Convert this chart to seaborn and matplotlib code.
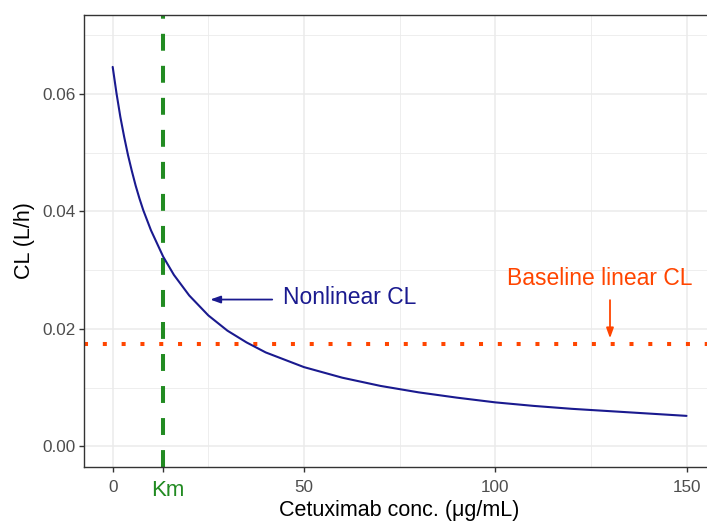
import numpy as np
import pandas as pd
import matplotlib
matplotlib.use("Agg")
import matplotlib.pyplot as plt
import matplotlib.transforms as mtransforms
import seaborn as sns

# ---- data ----
conc = [0, 1, 2, 3, 4, 5, 6, 7, 8, 10, 13.2, 16, 20, 25, 30, 35, 40, 50, 60,
        70, 80, 90, 100, 110, 120, 130, 140, 150]
cl = [0.0646, 0.0601, 0.0561, 0.0527, 0.0496, 0.0469, 0.0444, 0.0422, 0.0402,
      0.0368, 0.0323, 0.0292, 0.0257, 0.0223, 0.0197, 0.0177, 0.0160, 0.0135,
      0.0117, 0.0103, 0.0092, 0.0083, 0.0075, 0.0069, 0.0064, 0.0060, 0.0056,
      0.0052]
km = 13.2
baseline_cl = 0.0174
x_ticks = [0, km, 50, 100, 150]
x_tick_labels = ["0", "Km", "50", "100", "150"]
y_ticks = [0.00, 0.02, 0.04, 0.06]
y_tick_labels = ["0.00", "0.02", "0.04", "0.06"]

df = pd.DataFrame({"conc": conc, "cl": cl})

sns.set_theme(style="white")
plt.rcParams["font.family"] = ["Liberation Sans", "DejaVu Sans"]

fig = plt.figure(figsize=(7.07, 5.26), dpi=100)
ax = fig.add_axes([0.1188, 0.1122, 0.8928, 0.8600])

grid_col = "#EBEBEB"
for xv in [25, 75, 125]:
    ax.axvline(xv, color=grid_col, lw=0.6, zorder=0)
for yv in [0.01, 0.03, 0.05, 0.07]:
    ax.axhline(yv, color=grid_col, lw=0.6, zorder=0)
for xv in [0, 50, 100, 150]:
    ax.axvline(xv, color=grid_col, lw=1.1, zorder=0)
for yv in y_ticks:
    ax.axhline(yv, color=grid_col, lw=1.1, zorder=0)

blue = "#1A1A8F"
orange = "#FF4500"
green = "#228B22"

sns.lineplot(data=df, x="conc", y="cl", ax=ax, color=blue, lw=1.5, zorder=3)

ax.axhline(baseline_cl, color=orange, lw=2.9, linestyle=(0, (1, 3.67)),
           dash_capstyle="butt", zorder=2)
ax.axvline(km, color=green, lw=2.9, linestyle=(0, (4.2, 3.75)),
           dash_capstyle="butt", zorder=2)

ax.annotate("", xy=(25.5, 0.0250), xytext=(41.7, 0.0250),
            arrowprops=dict(arrowstyle="-|>,head_length=0.5,head_width=0.18",
                            color=blue, lw=1.3, shrinkA=0, shrinkB=0))
ax.text(44.6, 0.0254, "Nonlinear CL", color=blue, fontsize=16.5,
        ha="left", va="center")

ax.annotate("", xy=(130, 0.0184), xytext=(130, 0.0249),
            arrowprops=dict(arrowstyle="-|>,head_length=0.5,head_width=0.18",
                            color=orange, lw=1.3, shrinkA=0, shrinkB=0))
ax.text(127.3, 0.0286, "Baseline linear CL", color=orange, fontsize=16.5,
        ha="center", va="center")

ax.set_xlim(-7.5, 157.5)
ax.set_ylim(-0.0035, 0.0735)
ax.set_xticks(x_ticks)
ax.set_xticklabels(x_tick_labels)
ax.set_yticks(y_ticks)
ax.set_yticklabels(y_tick_labels)
ax.tick_params(axis="both", which="major", length=3.6, width=1, color="#333333",
               labelsize=12.3, labelcolor="#4D4D4D", direction="out")
ax.tick_params(axis="x", bottom=True, pad=6)
ax.tick_params(axis="y", left=True, pad=2.5)
offset = mtransforms.ScaledTranslation(5 / 100, 0, fig.dpi_scale_trans)
for lab in ax.get_xticklabels():
    if lab.get_text() == "Km":
        lab.set_color(green)
        lab.set_fontsize(16)
        lab.set_transform(lab.get_transform() + offset)

ax.set_xlabel("Cetuximab conc. (\u03bcg/mL)", fontsize=15.5, color="black", labelpad=-1)
ax.set_ylabel("CL (L/h)", fontsize=15.5, color="black", labelpad=5)

for s in ax.spines.values():
    s.set_color("#333333")
    s.set_linewidth(1.0)
    s.set_visible(True)
ax.set_facecolor("white")

fig.savefig("out.png", dpi=100)
